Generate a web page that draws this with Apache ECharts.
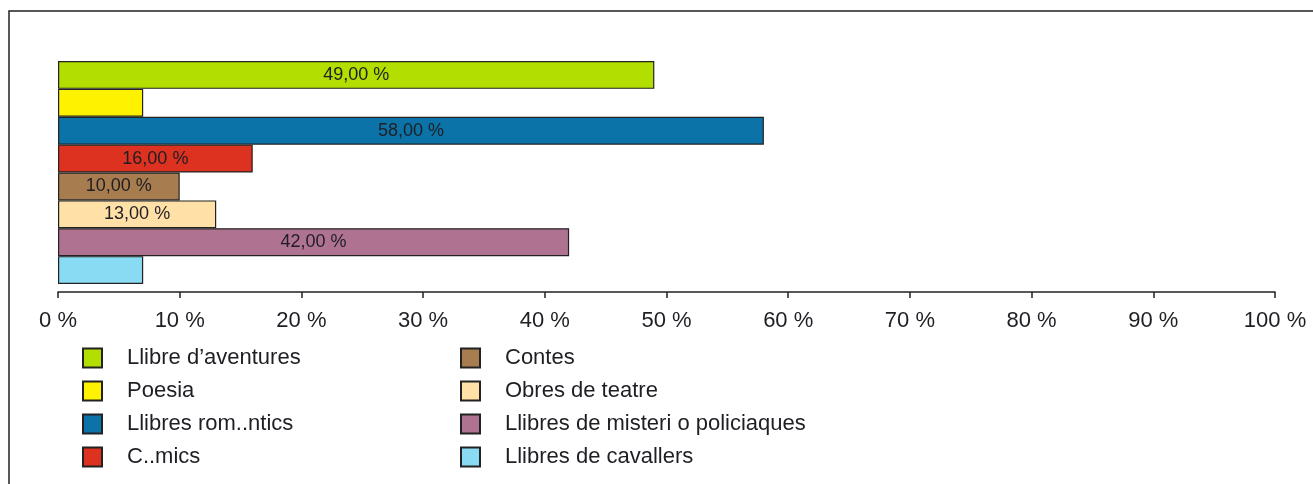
<!DOCTYPE html>
<html>
<head>
<meta charset="utf-8">
<script src="https://cdn.jsdelivr.net/npm/echarts@6/dist/echarts.min.js"></script>
<style>
  html, body { margin: 0; padding: 0; background: #fff; }
  #chart { width: 1313px; height: 484px; }
</style>
</head>
<body>
<div id="chart"></div>
<script>
// survey answers, share of pupils (%)
const categories = [
  'Llibre d’aventures',
  'Poesia',
  'Llibres rom..ntics',
  'C..mics',
  'Contes',
  'Obres de teatre',
  'Llibres de misteri o policiaques',
  'Llibres de cavallers'
]
const values = [49, 7, 58, 16, 10, 13, 42, 7]
const colors = ['#b2df00', '#fff200', '#0b73a8', '#dc321f', '#a77c4f', '#ffe0a6', '#b07291', '#88dbf3']
const xTicks = { min: 0, max: 100, interval: 10 }

const fontFamily = '"Liberation Sans", Arial, sans-serif'
const ink = '#1e1e24'

const chart = echarts.init(document.getElementById('chart'))

const series = categories.map((name, i) => ({
  name,
  type: 'bar',
  stack: 'all',
  barCategoryGap: '0%',
  data: categories.map((_, j) => (j === i ? values[i] : '-')),
  itemStyle: { color: colors[i], borderColor: '#222', borderWidth: 1.2 },
  label: {
    show: true,
    position: 'inside',
    color: ink,
    fontSize: 18,
    fontFamily,
    formatter: (p) => (p.value >= 10 ? p.value.toFixed(2).replace('.', ',') + ' %' : '')
  },
  emphasis: { disabled: true }
}))

const legendBase = {
  orient: 'vertical',
  icon: 'rect',
  itemWidth: 19,
  itemHeight: 19,
  itemGap: 11,
  top: 342,
  textStyle: { fontSize: 22, fontFamily, color: ink, padding: [0, 0, 0, 20] },
  selectedMode: false
}

chart.setOption({
  animation: false,
  backgroundColor: '#fff',
  grid: { left: 58, right: 38, top: 61, bottom: 200 },
  xAxis: {
    type: 'value',
    min: xTicks.min,
    max: xTicks.max,
    interval: xTicks.interval,
    offset: 8,
    axisLine: { show: true, lineStyle: { color: '#222', width: 1.5 } },
    axisTick: { show: true, length: 6, lineStyle: { color: '#222', width: 1.5 } },
    splitLine: { show: false },
    axisLabel: {
      formatter: '{value} %',
      fontSize: 22,
      fontFamily,
      color: ink,
      margin: 18
    }
  },
  yAxis: {
    type: 'category',
    inverse: true,
    data: categories,
    show: false
  },
  legend: [
    Object.assign({ left: 77, data: categories.slice(0, 4) }, legendBase),
    Object.assign({ left: 455, data: categories.slice(4) }, legendBase)
  ],
  graphic: [{
    type: 'rect',
    silent: true,
    shape: { x: 9, y: 11, width: 1500, height: 700 },
    style: { fill: 'none', stroke: '#222', lineWidth: 1.5 }
  }],
  series
})
</script>
</body>
</html>
